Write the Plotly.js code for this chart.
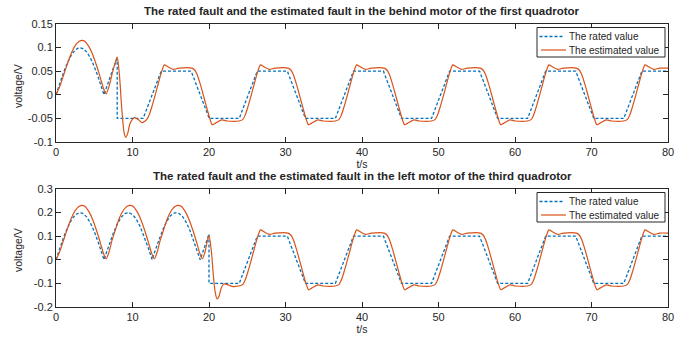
<!DOCTYPE html>
<html>
<head>
<meta charset="utf-8">
<script src="https://cdn.plot.ly/plotly-3.0.1.min.js"></script>
<style>html,body{margin:0;padding:0;background:#fff;}#chart{width:689px;height:339px;}</style>
</head>
<body>
<div id="chart"></div>
<script>
// ---------- data ----------
const title1 = "The rated fault and the estimated fault in the behind motor of the first quadrotor";
const title2 = "The rated fault and the estimated fault in the left motor of the third quadrotor";
const seriesNames = ["The rated value", "The estimated value"];
const xTitle = "t/s", yTitle = "voltage/V";
const xTicks = [0, 10, 20, 30, 40, 50, 60, 70, 80];
const y1Ticks = [-0.1, -0.05, 0, 0.05, 0.1, 0.15];
const y1TickText = ["-0.1", "-0.05", "0", "0.05", "0.1", "0.15"];
const y2Ticks = [-0.2, -0.1, 0, 0.1, 0.2, 0.3];
const y2TickText = ["-0.2", "-0.1", "0", "0.1", "0.2", "0.3"];

// top: rated value
const tRated1 = [0,0.5,1,1.5,2,2.5,3,3.5,4,4.5,5,5.5,6,6.28,6.5,7,7.5,8,8,
  11.39,12.57,13.75,17.67,18.85,20.03,23.95,25.13,26.31,30.24,31.42,32.6,36.52,37.7,38.88,
  42.8,43.98,45.16,49.09,50.27,51.45,55.37,56.55,57.73,61.65,62.83,64.01,67.94,69.12,70.3,
  74.22,75.4,76.58,80];
const rated1 = [0,0.025,0.048,0.068,0.084,0.095,0.1,0.098,0.091,0.078,0.06,0.038,0.014,0,0.011,0.035,0.057,0.076,-0.05,
  -0.05,0,0.05,0.05,0,-0.05,-0.05,0,0.05,0.05,0,-0.05,-0.05,0,0.05,
  0.05,0,-0.05,-0.05,0,0.05,0.05,0,-0.05,-0.05,0,0.05,0.05,0,-0.05,
  -0.05,0,0.05,0.05];

// top: estimated value
const tEst1 = [0,0.5,1,1.5,2,2.5,3,3.4,3.8,4.3,4.8,5.3,5.8,6.2,6.55,6.9,7.3,7.7,8.0,
  8.3,8.6,8.9,9.1,9.35,9.7,10.25,10.8,11.25,11.6,11.87,12.17,12.57,12.97,13.37,13.77,14.17,14.57,15.32,16.07,17.77,
  18.15,18.45,18.85,19.25,19.65,20.05,20.45,20.85,21.65,22.35,23.93,
  24.43,24.73,25.13,25.53,25.93,26.33,26.73,27.13,27.88,28.63,30.33,
  30.72,31.02,31.42,31.82,32.22,32.62,33.02,33.42,34.22,34.92,36.5,
  37.0,37.3,37.7,38.1,38.5,38.9,39.3,39.7,40.45,41.2,42.9,
  43.28,43.58,43.98,44.38,44.78,45.18,45.58,45.98,46.78,47.48,49.07,
  49.57,49.87,50.27,50.67,51.07,51.47,51.87,52.27,53.02,53.77,55.47,
  55.85,56.15,56.55,56.95,57.35,57.75,58.15,58.55,59.35,60.05,61.63,
  62.13,62.43,62.83,63.23,63.63,64.03,64.43,64.83,65.58,66.33,68.03,
  68.42,68.72,69.12,69.52,69.92,70.32,70.72,71.12,71.92,72.62,74.2,
  74.7,75.0,75.4,75.8,76.2,76.6,77.0,77.4,78.15,78.9,80];
const est1 = [0,0.018,0.042,0.066,0.088,0.104,0.113,0.1155,0.113,0.102,0.085,0.062,0.036,0.014,0.002,0.016,0.042,0.066,0.08,
  0.04,-0.03,-0.08,-0.09,-0.083,-0.06,-0.0485,-0.053,-0.059,-0.056,-0.052,-0.043,-0.023,0,0.024,0.047,0.0635,0.06,0.054,0.0565,0.0565,
  0.052,0.043,0.023,0,-0.024,-0.047,-0.0635,-0.06,-0.053,-0.0555,-0.0555,
  -0.052,-0.043,-0.023,0,0.024,0.047,0.0635,0.06,0.054,0.0565,0.0565,
  0.052,0.043,0.023,0,-0.024,-0.047,-0.0635,-0.06,-0.053,-0.0555,-0.0555,
  -0.052,-0.043,-0.023,0,0.024,0.047,0.0635,0.06,0.054,0.0565,0.0565,
  0.052,0.043,0.023,0,-0.024,-0.047,-0.0635,-0.06,-0.053,-0.0555,-0.0555,
  -0.052,-0.043,-0.023,0,0.024,0.047,0.0635,0.06,0.054,0.0565,0.0565,
  0.052,0.043,0.023,0,-0.024,-0.047,-0.0635,-0.06,-0.053,-0.0555,-0.0555,
  -0.052,-0.043,-0.023,0,0.024,0.047,0.0635,0.06,0.054,0.0565,0.0565,
  0.052,0.043,0.023,0,-0.024,-0.047,-0.0635,-0.06,-0.053,-0.0555,-0.0555,
  -0.052,-0.043,-0.023,0,0.024,0.047,0.0635,0.06,0.054,0.0565,0.0565];

// bottom: rated value
const tRated2 = [0,0.5,1,1.5,2,2.5,3,3.5,4,4.5,5,5.5,6,6.28,6.5,7,7.5,8,8.5,9,9.5,10,10.5,11,11.5,12,12.5,12.57,
  13,13.5,14,14.5,15,15.5,16,16.5,17,17.5,18,18.5,18.85,19,19.5,20,20,
  23.95,25.13,26.31,30.24,31.42,32.6,36.52,37.7,38.88,
  42.8,43.98,45.16,49.09,50.27,51.45,55.37,56.55,57.73,61.65,62.83,64.01,67.94,69.12,70.3,
  74.22,75.4,76.58,80];
const rated2 = [0,0.049,0.096,0.136,0.168,0.19,0.1995,0.197,0.182,0.156,0.12,0.076,0.028,0,0.022,0.07,0.114,0.151,0.179,0.196,0.2,0.192,0.172,0.141,0.102,0.056,0.007,0,
  0.043,0.09,0.131,0.165,0.188,0.199,0.198,0.185,0.16,0.125,0.082,0.035,0,0.015,0.064,0.109,-0.1,
  -0.1,0,0.1,0.1,0,-0.1,-0.1,0,0.1,
  0.1,0,-0.1,-0.1,0,0.1,0.1,0,-0.1,-0.1,0,0.1,0.1,0,-0.1,
  -0.1,0,0.1,0.1];

// bottom: estimated value
const tEst2 = [0,0.5,1,1.5,2,2.5,3,3.4,3.8,4.3,4.8,5.3,5.8,6.2,6.55,
  6.9,7.3,7.8,8.3,8.8,9.3,9.7,10.1,10.6,11.1,11.6,12.1,12.5,12.85,
  13.2,13.6,14.1,14.6,15.1,15.6,16.0,16.4,16.9,17.4,17.9,18.4,18.8,19.13,
  19.45,19.75,20.0,20.3,20.55,20.8,21.05,21.3,21.6,21.95,22.5,23.15,23.6,23.93,
  24.43,24.73,25.13,25.53,25.93,26.33,26.73,27.13,27.88,28.63,30.33,
  30.72,31.02,31.42,31.82,32.22,32.62,33.02,33.42,34.22,34.92,36.5,
  37.0,37.3,37.7,38.1,38.5,38.9,39.3,39.7,40.45,41.2,42.9,
  43.28,43.58,43.98,44.38,44.78,45.18,45.58,45.98,46.78,47.48,49.07,
  49.57,49.87,50.27,50.67,51.07,51.47,51.87,52.27,53.02,53.77,55.47,
  55.85,56.15,56.55,56.95,57.35,57.75,58.15,58.55,59.35,60.05,61.63,
  62.13,62.43,62.83,63.23,63.63,64.03,64.43,64.83,65.58,66.33,68.03,
  68.42,68.72,69.12,69.52,69.92,70.32,70.72,71.12,71.92,72.62,74.2,
  74.7,75.0,75.4,75.8,76.2,76.6,77.0,77.4,78.15,78.9,80];
const est2 = [0,0.036,0.084,0.132,0.176,0.208,0.226,0.231,0.226,0.204,0.17,0.124,0.072,0.028,0.004,
  0.03,0.08,0.13,0.178,0.21,0.227,0.231,0.226,0.204,0.17,0.124,0.072,0.028,0.004,
  0.03,0.08,0.13,0.178,0.21,0.227,0.231,0.226,0.204,0.17,0.124,0.072,0.028,0.004,
  0.03,0.075,0.102,0.04,-0.06,-0.135,-0.166,-0.155,-0.12,-0.1025,-0.106,-0.114,-0.112,-0.111,
  -0.104,-0.086,-0.046,0,0.048,0.094,0.127,0.12,0.108,0.113,0.113,
  0.104,0.086,0.046,0,-0.048,-0.094,-0.127,-0.12,-0.106,-0.111,-0.111,
  -0.104,-0.086,-0.046,0,0.048,0.094,0.127,0.12,0.108,0.113,0.113,
  0.104,0.086,0.046,0,-0.048,-0.094,-0.127,-0.12,-0.106,-0.111,-0.111,
  -0.104,-0.086,-0.046,0,0.048,0.094,0.127,0.12,0.108,0.113,0.113,
  0.104,0.086,0.046,0,-0.048,-0.094,-0.127,-0.12,-0.106,-0.111,-0.111,
  -0.104,-0.086,-0.046,0,0.048,0.094,0.127,0.12,0.108,0.113,0.113,
  0.104,0.086,0.046,0,-0.048,-0.094,-0.127,-0.12,-0.106,-0.111,-0.111,
  -0.104,-0.086,-0.046,0,0.048,0.094,0.127,0.12,0.108,0.113,0.113];

// ---------- styles ----------
const BLUE = "#0072BD", RED = "#D95319", INK = "#262626";
const FONT = "Liberation Sans, Arial, sans-serif";
const DASH = "3px,2px";
const W = 689, H = 339, M = {l: 56, r: 21, t: 24, b: 32};
const px = (x) => (x - M.l) / (W - M.l - M.r);      // pixel -> paper x
const py = (y) => (H - M.b - y) / (H - M.t - M.b);  // pixel -> paper y

const traces = [
  {x: tRated1, y: rated1, name: seriesNames[0], mode: "lines", xaxis: "x", yaxis: "y",
   line: {color: BLUE, width: 1.3, dash: DASH}},
  {x: tEst1, y: est1, name: seriesNames[1], mode: "lines", xaxis: "x", yaxis: "y",
   line: {color: RED, width: 1.2, shape: "spline", smoothing: 0.8}},
  {x: tRated2, y: rated2, name: seriesNames[0], mode: "lines", xaxis: "x2", yaxis: "y2",
   line: {color: BLUE, width: 1.3, dash: DASH}},
  {x: tEst2, y: est2, name: seriesNames[1], mode: "lines", xaxis: "x2", yaxis: "y2",
   line: {color: RED, width: 1.2, shape: "spline", smoothing: 0.8}}
];

function xAx(anchor) {
  return {anchor: anchor, range: [0, 80], tickvals: xTicks, ticks: "inside", ticklen: 5, tickcolor: INK,
    showline: true, linecolor: INK, linewidth: 1, mirror: "ticks", showgrid: false, zeroline: false,
    tickfont: {family: FONT, size: 11, color: INK},
    title: {text: xTitle, font: {family: FONT, size: 10.5, color: INK}, standoff: 2}};
}
function yAx(anchor, dom, rng, tv, tt) {
  return {anchor: anchor, domain: dom, range: rng, tickvals: tv, ticktext: tt, ticks: "inside", ticklen: 5, tickcolor: INK,
    showline: true, linecolor: INK, linewidth: 1, mirror: "ticks", showgrid: false, zeroline: false,
    tickfont: {family: FONT, size: 11, color: INK}};
}

// legend boxes (drawn as shapes + text, one per subplot)
const shapes = [], annotations = [];
function legendAt(top) {
  shapes.push({type: "rect", xref: "paper", yref: "paper", layer: "above",
    x0: px(537), x1: px(665), y0: py(top), y1: py(top + 29.5), fillcolor: "#fff", line: {color: INK, width: 1}});
  const rows = [top + 9, top + 22.5];
  const styles = [{color: BLUE, width: 1.3, dash: DASH}, {color: RED, width: 1.2}];
  const ends = [[539.5, 563.5], [541, 566]];
  rows.forEach((ry, i) => {
    shapes.push({type: "line", xref: "paper", yref: "paper", layer: "above",
      x0: px(ends[i][0]), x1: px(ends[i][1]), y0: py(ry), y1: py(ry), line: styles[i]});
    annotations.push({text: seriesNames[i], xref: "paper", yref: "paper", x: px(566.5), y: py(ry),
      xanchor: "left", yanchor: "middle", showarrow: false, font: {family: FONT, size: 10, color: INK}});
  });
}
legendAt(27.5);
legendAt(192.5);

// subplot titles and y-axis titles
annotations.push(
  {text: "<b>" + title1 + "</b>", xref: "paper", yref: "paper", x: 0.5, y: py(11), xanchor: "center", yanchor: "middle",
   showarrow: false, font: {family: FONT, size: 11.5, color: INK}},
  {text: "<b>" + title2 + "</b>", xref: "paper", yref: "paper", x: 0.5, y: py(176), xanchor: "center", yanchor: "middle",
   showarrow: false, font: {family: FONT, size: 11.5, color: INK}},
  {text: yTitle, xref: "paper", yref: "paper", x: px(18), y: py(86), xanchor: "center", yanchor: "middle",
   textangle: -90, showarrow: false, font: {family: FONT, size: 10.5, color: INK}},
  {text: yTitle, xref: "paper", yref: "paper", x: px(18), y: py(250), xanchor: "center", yanchor: "middle",
   textangle: -90, showarrow: false, font: {family: FONT, size: 10.5, color: INK}}
);

const layout = {
  width: W, height: H, margin: M,
  paper_bgcolor: "#fff", plot_bgcolor: "#fff", showlegend: false,
  xaxis: xAx("y"), yaxis: yAx("x", [0.583, 1], [-0.1, 0.15], y1Ticks, y1TickText),
  xaxis2: xAx("y2"), yaxis2: yAx("x2", [0, 0.417], [-0.2, 0.3], y2Ticks, y2TickText),
  shapes: shapes, annotations: annotations
};
Plotly.newPlot("chart", traces, layout, {staticPlot: true, displayModeBar: false});
</script>
</body>
</html>
